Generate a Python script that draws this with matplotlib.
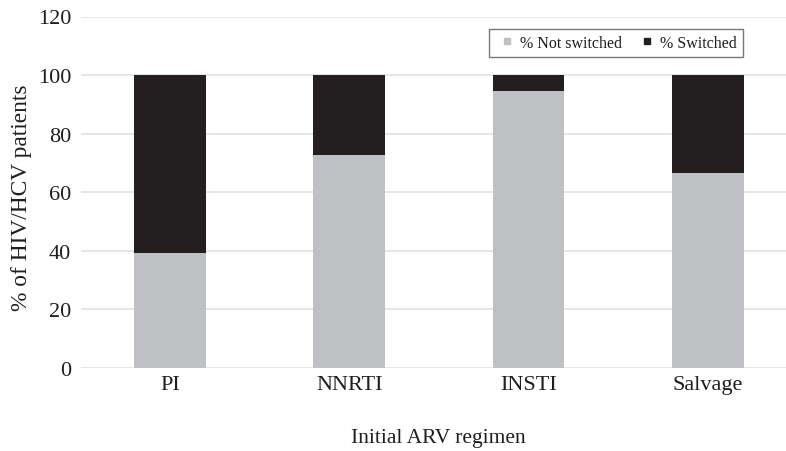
import matplotlib
matplotlib.use("Agg")
import matplotlib.pyplot as plt
from matplotlib.lines import Line2D
import numpy as np

categories = ["PI", "NNRTI", "INSTI", "Salvage"]
not_switched = [39.1, 72.8, 94.4, 66.7]
switched = [100 - v for v in not_switched]
yticks = [0, 20, 40, 60, 80, 100, 120]

plt.rcParams['font.family'] = ['Liberation Serif', 'DejaVu Serif']

fig = plt.figure(figsize=(7.86, 4.52), dpi=100)
ax = fig.add_axes([81/786, 1 - 369/452, 1 - 81/786, (369 - 17.5)/452])

x = np.arange(len(categories))
gray = "#BFC0C4"
black = "#231F20"
txt = "#1E1E1E"
ax.bar(x, not_switched, width=0.40, color=gray, zorder=3)
ax.bar(x, switched, width=0.40, bottom=not_switched, color=black, zorder=3)

ax.set_xlim(-0.497, 3.437)
ax.set_ylim(0, 120)
ax.set_yticks(yticks)
ax.yaxis.grid(True, color="#E2E2E2", linewidth=1.2, zorder=0)
ax.set_axisbelow(True)
for s in ax.spines.values():
    s.set_visible(False)
ax.tick_params(axis='both', length=0, labelsize=16, colors=txt)
ax.tick_params(axis='y', pad=7)
ax.tick_params(axis='x', pad=5)
ax.set_xticks(x)
ax.set_xticklabels(categories)

fig.text(22/786, 1 - 198/452, "% of HIV/HCV patients", rotation=90, fontsize=16.8,
         ha='center', va='center', color=txt)
fig.text(438/786, 1 - 439/452, "Initial ARV regimen", fontsize=15.5,
         ha='center', va='center', color=txt)

handles = [Line2D([], [], marker='s', linestyle='', color=gray, markersize=5),
           Line2D([], [], marker='s', linestyle='', color=black, markersize=5)]
leg = ax.legend(handles, ["% Not switched", "% Switched"], loc='upper right',
                bbox_to_anchor=(743/786, 1 - 29.5/452),
                bbox_transform=fig.transFigure, ncol=2, fontsize=11.5,
                frameon=True, fancybox=False, edgecolor="#555555",
                handlelength=1.4, handletextpad=0.1,
                columnspacing=0.9, borderpad=0.4, borderaxespad=0)
leg.get_frame().set_linewidth(1.0)
for t in leg.get_texts():
    t.set_color(txt)

fig.savefig("out.png", dpi=100)
